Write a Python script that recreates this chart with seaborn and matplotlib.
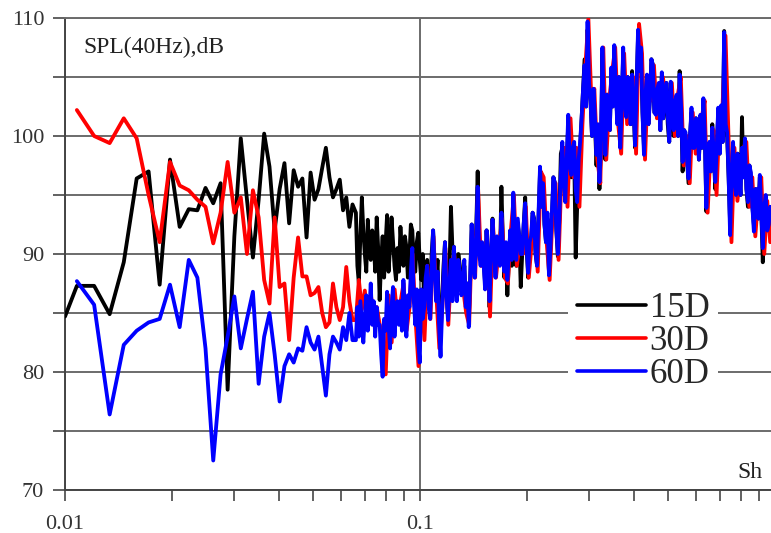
import numpy as np
import pandas as pd
import matplotlib
matplotlib.use("Agg")
import matplotlib.pyplot as plt
from matplotlib.lines import Line2D
from matplotlib.ticker import MultipleLocator, FixedLocator, FuncFormatter, LogLocator, NullFormatter
import seaborn as sns

# ---- data -------------------------------------------------------------
series_names = ["15D", "30D", "60D"]
series_colors = ["#000000", "#ff0000", "#0000ff"]

# Strouhal-number bins: linear narrow-band bins at low Sh, dense band above
sh_first_15d = [0.0100]
sh_low = 0.0108 + 0.00128 * np.arange(43)

spl15_first = [84.7]
spl15_low = [87.3, 87.3, 84.9, 89.3, 96.4, 97.0, 87.4, 98.0, 92.3, 93.8,
             93.7, 95.6, 94.3, 96.0, 78.5, 91.5, 99.8, 94.6, 89.7, 94.6,
             100.2, 97.4, 92.0, 95.5, 97.7, 92.6, 97.1, 95.7, 96.4, 91.4,
             96.9, 94.6, 95.5, 97.3, 99.0, 96.5, 94.8, 95.5, 96.3, 93.7,
             94.8, 92.3, 94.2]
spl30_low = [102.2, 100.0, 99.4, 101.5, 99.8, 95.0, 91.0, 97.8, 95.8, 95.4,
             94.6, 94.0, 90.9, 93.5, 97.8, 93.5, 94.8, 90.0, 95.4, 93.1,
             87.8, 85.8, 93.1, 87.2, 87.5, 82.7, 88.0, 91.4, 88.1, 88.1,
             86.5, 86.7, 87.2, 85.0, 83.8, 84.2, 87.5, 85.5, 84.4, 85.5,
             88.9, 86.0, 84.4]
spl60_low = [87.7, 85.7, 76.4, 82.3, 83.5, 84.2, 84.5, 87.4, 83.8, 89.5,
             88.0, 82.0, 72.5, 79.8, 83.0, 86.4, 82.0, 84.5, 86.8, 79.0,
             83.0, 85.0, 81.5, 77.5, 80.5, 81.5, 80.8, 82.0, 81.8, 83.8,
             82.5, 81.9, 83.0, 80.5, 78.0, 81.5, 83.0, 82.5, 81.9, 83.8,
             82.7, 85.0, 82.7]

spl15_high = [93.5, 89.0, 87.5, 91.5, 94.8, 92.0, 90.0, 88.5, 92.9, 90.5, 89.5, 92.0, 91.0, 88.5, 93.1, 90.5,
              86.1, 89.5, 91.5, 88.0, 90.9, 93.3, 88.5, 90.5, 93.1, 91.0, 89.0, 87.8, 90.5, 88.5,
              92.3, 90.0, 89.0, 91.5, 90.6, 88.0, 89.7, 92.5, 92.0, 89.0, 88.5, 91.0, 91.8, 89.5,
              87.8, 90.0, 85.5, 88.5, 89.5, 86.5, 86.0, 90.0, 92.0, 89.0, 87.5, 89.5, 84.0, 86.0,
              86.0, 89.0, 91.0, 87.0, 84.7, 88.5, 94.0, 90.5, 90.6, 88.0, 87.0, 90.0, 89.0, 87.5,
              87.0, 89.0, 86.0, 87.5, 84.5, 88.0, 92.5, 89.5, 88.5, 92.0, 97.0, 91.0, 89.5, 90.5,
              89.5, 87.5, 92.0, 89.0, 85.5, 90.0, 93.0, 90.0, 88.5, 91.0, 91.0, 89.5,
              95.7, 91.0, 88.0, 90.5, 86.5, 89.5, 92.0, 89.0, 95.0, 91.0, 89.0, 92.5, 91.5, 87.2,
              90.0, 92.5, 94.8, 90.5, 88.0, 91.0, 91.0, 93.5, 93.0, 90.0, 89.0, 93.0, 97.0, 94.0,
              96.0, 92.5, 91.0, 93.0, 88.5, 90.5, 93.0, 96.5, 96.0, 92.0, 89.8, 93.0,
              98.5, 99.0, 96.0, 94.5, 98.0, 101.0, 97.0, 96.5, 99.0, 98.5, 89.7, 94.0, 97.5, 99.0,
              101.5, 104.0, 106.5, 102.5, 109.0, 104.5, 103.0, 100.0, 104.0, 101.0, 97.5, 100.5, 95.5, 99.0,
              107.0, 102.0, 98.0, 103.5, 103.5, 100.5, 105.5, 102.5, 107.0, 104.0, 101.5, 105.0, 99.5, 102.5,
              107.0, 103.0, 102.0, 105.0, 104.5, 101.0, 105.5, 102.5, 99.0, 104.0, 108.5, 105.5,
              107.0, 102.0, 99.0, 103.5, 105.0, 101.0, 103.5, 106.5, 106.0, 102.0, 102.0, 104.0, 104.0, 100.5,
              105.0, 101.5, 103.0, 104.5, 101.0, 99.5, 104.5, 102.0, 100.0, 103.0, 103.0, 100.0, 105.5, 102.5,
              97.0, 100.5, 100.0, 98.0, 96.0, 100.0, 102.0, 99.0, 99.5, 101.5, 101.0, 98.0,
              101.5, 99.0, 103.0, 100.0, 93.6, 98.0, 99.0, 97.0, 101.0, 98.5, 95.5, 99.0, 102.0, 98.5,
              102.0, 99.5, 108.9, 101.0, 100.0, 96.5, 92.5, 97.0, 99.0, 96.0, 95.5, 98.5, 97.0, 95.0,
              101.6, 96.5, 99.5, 95.5, 94.0, 97.5, 96.5, 94.0, 92.5, 95.5, 95.0, 93.0,
              96.5, 93.5, 89.3, 94.0, 94.5, 92.0, 92.0, 94.0]
spl30_high = [84.4, 87.8, 85.3, 86.9, 84.0, 86.5, 85.0, 85.5,
              84.0, 83.0, 79.8, 86.5, 82.5, 87.0, 84.5,
              86.0, 87.5, 83.5, 85.5, 90.0, 84.5, 80.5,
              86.5, 82.7, 89.0, 84.5, 91.5, 86.5, 82.0,
              85.5, 90.5, 84.0, 89.0, 90.0, 86.7, 88.0,
              87.0, 85.0, 84.0, 92.0, 88.0, 95.5, 89.0,
              89.0, 91.5, 84.7, 92.5, 88.0, 90.5,
              93.0, 88.0, 87.5, 92.0, 95.0, 89.0, 91.0,
              90.0, 94.0, 88.0, 91.0, 92.5, 88.5, 97.0,
              96.5, 91.0, 87.8, 93.5, 96.0, 89.5,
              97.0, 99.0, 94.0, 101.5, 96.5, 99.0, 94.0,
              101.0, 106.0, 109.9, 103.0, 104.0, 98.0, 96.0,
              107.5, 98.0, 103.0, 105.5, 107.5, 101.0, 98.5,
              107.0, 101.0, 104.0, 105.0, 98.5, 109.5,
              107.0, 98.0, 105.0, 103.0, 106.0, 101.5, 104.0,
              105.0, 103.0, 101.5, 104.5, 100.0, 103.5, 105.0,
              97.5, 100.0, 96.0, 102.0, 98.5, 101.0,
              101.5, 103.0, 93.5, 99.0, 100.5, 95.0, 102.0,
              102.5, 108.5, 100.0, 91.0, 99.0, 94.5, 97.0,
              99.0, 99.5, 94.0, 96.5, 91.5, 95.0,
              96.5, 90.0, 94.5, 91.0]
spl60_high = [82.7, 85.5, 83.0, 86.0, 84.2, 82.5, 84.7, 86.5, 83.5, 85.0, 87.5, 84.0, 86.0, 83.0, 85.5, 84.0,
              84.0, 81.5, 79.6, 84.5, 83.5, 86.8, 84.0, 82.0, 85.5, 87.2, 83.0, 85.0, 86.0, 84.0,
              86.0, 83.5, 87.8, 85.0, 83.0, 86.5, 85.5, 88.5, 90.5, 86.0, 84.0, 87.0, 82.5, 80.8,
              87.0, 84.5, 85.5, 88.0, 89.0, 85.5, 84.5, 88.5, 92.0, 89.0, 86.0, 88.5, 84.0, 81.3,
              85.0, 88.0, 91.0, 86.5, 84.4, 87.5, 89.5, 86.0, 90.6, 88.0, 86.0, 89.5, 88.5, 86.5,
              87.0, 89.5, 85.5, 87.5, 83.8, 88.0, 92.5, 89.0, 88.0, 91.5, 95.7, 90.0, 89.0, 91.0,
              89.2, 87.0, 92.0, 89.5, 86.0, 90.0, 92.9, 90.5, 88.0, 91.5, 90.6, 89.0,
              93.5, 90.5, 88.5, 91.0, 87.8, 90.0, 92.0, 89.5, 95.2, 91.5, 89.5, 93.0, 91.5, 90.0,
              90.0, 92.5, 94.3, 90.5, 88.4, 91.0, 91.5, 93.5, 92.9, 90.0, 89.0, 93.5, 97.4, 94.0,
              96.0, 92.5, 91.0, 93.5, 88.2, 90.5, 93.5, 96.5, 96.0, 92.0, 90.0, 93.0,
              97.0, 99.5, 96.0, 94.4, 98.0, 101.8, 97.5, 96.7, 99.0, 99.5, 95.5, 94.4, 98.0, 99.5,
              101.5, 104.0, 106.0, 102.5, 109.7, 104.5, 102.9, 100.0, 104.0, 101.5, 98.4, 101.0, 96.1, 99.0,
              107.5, 102.0, 98.4, 103.5, 103.0, 100.5, 105.8, 102.5, 107.7, 104.0, 101.0, 105.0, 99.0, 102.5,
              107.5, 103.0, 101.6, 105.0, 104.0, 101.0, 105.2, 102.5, 99.2, 104.0, 109.0, 105.5,
              107.5, 102.0, 98.4, 103.5, 105.2, 101.0, 103.0, 106.5, 106.0, 102.0, 101.8, 104.0, 104.5, 100.5,
              105.4, 101.5, 103.0, 104.5, 101.8, 99.5, 104.6, 102.0, 100.5, 103.0, 103.5, 100.0, 105.2, 102.5,
              97.8, 100.5, 100.3, 98.0, 96.4, 100.0, 102.4, 99.0, 99.0, 101.5, 100.9, 98.0,
              101.8, 99.0, 103.2, 100.0, 93.9, 98.0, 99.5, 97.0, 100.7, 98.5, 96.1, 99.0, 102.4, 98.5,
              102.6, 99.5, 108.8, 101.0, 100.3, 96.5, 91.6, 97.0, 99.5, 96.0, 95.0, 98.5, 97.3, 95.0,
              99.0, 96.5, 99.8, 95.5, 94.4, 97.5, 96.9, 94.0, 91.9, 95.5, 95.5, 93.0,
              96.7, 93.5, 90.5, 94.0, 95.0, 92.0, 92.5, 94.0]

sh_high_fine = np.geomspace(0.066, 0.97, len(spl60_high))
sh_high_coarse = np.geomspace(0.066, 0.97, len(spl30_high))

y_ticks_major = [70, 80, 90, 100, 110]
x_tick_values = [0.01, 0.1]
x_tick_labels = ["0.01", "0.1"]

# ---- long-form table ---------------------------------------------------
frames = []
for name, sh, spl in [
    ("15D", np.concatenate([sh_first_15d, sh_low, sh_high_fine]),
     np.concatenate([spl15_first, spl15_low, spl15_high])),
    ("30D", np.concatenate([sh_low, sh_high_coarse]),
     np.concatenate([spl30_low, spl30_high])),
    ("60D", np.concatenate([sh_low, sh_high_fine]),
     np.concatenate([spl60_low, spl60_high])),
]:
    frames.append(pd.DataFrame({"Sh": sh, "SPL": spl, "series": name}))
df = pd.concat(frames, ignore_index=True)

# ---- figure --------------------------------------------------------------
sns.set_style("white")
plt.rcParams["font.family"] = ["Liberation Serif", "DejaVu Serif"]

W, H = 771, 533
fig = plt.figure(figsize=(W / 100, H / 100), dpi=100)
ax = fig.add_axes([65 / W, (H - 490) / H, 706 / W, 472 / H])

sns.lineplot(data=df, x="Sh", y="SPL", hue="series",
             hue_order=series_names, palette=series_colors,
             estimator=None, sort=False, linewidth=2.75,
             legend=False, ax=ax, zorder=3)

ax.set_xscale("log")
ax.set_xlim(0.01, 0.975)
ax.set_ylim(70, 110)
ax.set_xlabel("")
ax.set_ylabel("")

grid_c = "#6b6b6b"
ax.yaxis.set_major_locator(MultipleLocator(5))
ax.yaxis.set_major_formatter(FuncFormatter(
    lambda v, p: f"{v:.0f}" if round(v) in y_ticks_major else ""))
ax.xaxis.set_major_locator(FixedLocator(x_tick_values))
ax.xaxis.set_major_formatter(FuncFormatter(
    lambda v, p: x_tick_labels[x_tick_values.index(min(x_tick_values, key=lambda t: abs(t - v)))]))
ax.xaxis.set_minor_locator(LogLocator(base=10, subs=np.arange(2, 10)))
ax.xaxis.set_minor_formatter(NullFormatter())

ax.grid(True, axis="y", which="major", color=grid_c, linewidth=1.4, zorder=1)
ax.grid(True, axis="x", which="major", color=grid_c, linewidth=1.4, zorder=1)
ax.grid(False, axis="x", which="minor")
ax.set_axisbelow(True)

for side in ["left", "bottom"]:
    ax.spines[side].set_color("#444444")
    ax.spines[side].set_linewidth(1.4)
ax.spines["top"].set_color(grid_c)
ax.spines["top"].set_linewidth(1.4)
ax.spines["right"].set_visible(False)

ax.tick_params(axis="y", which="major", length=9, width=1.3, color="#555555",
               labelsize=16, labelcolor="#333333", pad=6, direction="out", left=True)
ax.tick_params(axis="x", which="both", length=8, width=1.3, color="#555555",
               labelsize=16, labelcolor="#333333", pad=10, direction="out", bottom=True)

ax.text(18 / 706, (490 - 47) / 472, "SPL(40Hz),dB", transform=ax.transAxes,
        fontsize=17, color="#222222", va="center", ha="left")
ax.text((737 - 65) / 706, (490 - 473) / 472, "Sh", transform=ax.transAxes,
        fontsize=17, color="#222222", va="center", ha="left")

handles = [Line2D([0], [0], color=c, linewidth=2.6) for c in series_colors]
leg = ax.legend(handles, series_names, loc="upper left",
                bbox_to_anchor=((568 - 65) / 706, (490 - 283) / 472),
                frameon=True, facecolor="white", edgecolor="none", framealpha=1,
                fontsize=25, handlelength=2.0, handletextpad=0.1,
                labelspacing=0.0, borderpad=0.25, borderaxespad=0)
leg.set_zorder(5)

fig.savefig("out.png", dpi=100)
